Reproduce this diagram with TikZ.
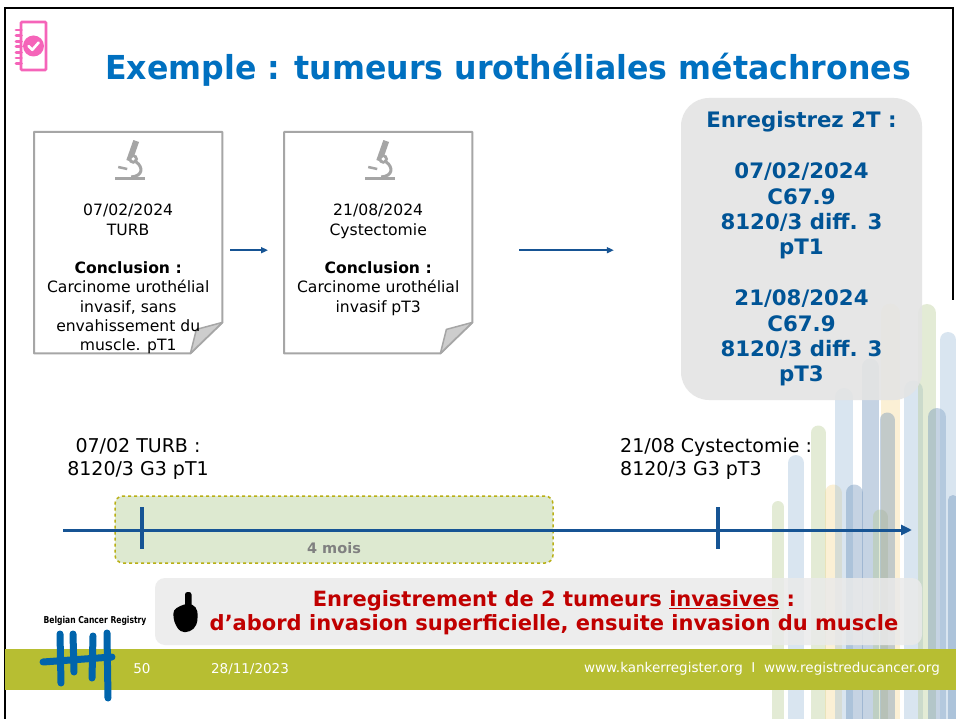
\documentclass[tikz,border=0pt]{standalone}
\usepackage{fontspec}
\setmainfont{DejaVu Sans}
\usetikzlibrary{positioning,arrows.meta,calc}

\definecolor{titleblue}{RGB}{0,112,192}
\definecolor{regblue}{RGB}{0,84,150}
\definecolor{axisblue}{RGB}{22,84,148}
\definecolor{docgray}{RGB}{166,166,166}
\definecolor{icongray}{RGB}{165,165,165}
\definecolor{foldgray}{RGB}{205,205,205}
\definecolor{boxgray}{RGB}{228,228,228}
\definecolor{callgray}{RGB}{234,234,234}
\definecolor{callred}{RGB}{192,0,0}
\definecolor{winfill}{RGB}{221,233,208}
\definecolor{windash}{RGB}{185,175,20}
\definecolor{bandolive}{RGB}{183,190,50}
\definecolor{iconpink}{RGB}{245,100,185}
\definecolor{logoblue}{RGB}{0,100,172}
\definecolor{bl1}{RGB}{150,185,215}
\definecolor{bl2}{RGB}{95,135,180}
\definecolor{yl}{RGB}{245,215,140}
\definecolor{gr}{RGB}{180,200,140}

\tikzset{
  microscope/.pic={
    \fill[icongray] (-18,18) rectangle (12,21.5);
    \draw[icongray, line width=6pt] (-4,2) -- (3,-18);
    \fill[icongray] (0,0) circle (4.8);
    \fill[white] (0,0) circle (1.8);
    \draw[icongray, line width=3pt] (3,3) .. controls (10,8) and (10,17) .. (-2,18);
    \draw[icongray, line width=2.5pt] (-15,8) -- (-6,10);
  }
}

\begin{document}
\begin{tikzpicture}[x=1pt, y=-1pt, >=Stealth,
  sheet/.style={minimum width=188pt, minimum height=221pt, inner sep=0pt, anchor=north west},
  sheetline/.style={draw=docgray, line width=2pt, fill=white, line join=round},
  doctext/.style={align=center, inner sep=0pt, anchor=north, font=\fontsize{15.6}{19.3}\selectfont},
  flow/.style={->, draw=axisblue, line width=1.6pt, >={Triangle[length=7pt,width=6pt]}},
  regbox/.style={fill=boxgray, fill opacity=0.9, text opacity=1, rounded corners=28pt,
    minimum width=241pt, minimum height=302pt, align=center, text=regblue,
    font=\bfseries\fontsize{21.3}{25.4}\selectfont},
  window/.style={draw=windash, dashed, line width=1.5pt, fill=winfill, rounded corners=8pt,
    minimum width=438pt, minimum height=67pt, inner sep=0pt},
  axis/.style={->, draw=axisblue, line width=3pt, >={Triangle[length=11pt,width=10pt]}},
  tick/.style={draw=axisblue, line width=4pt},
  when/.style={inner sep=0pt, font=\fontsize{19}{23}\selectfont},
  callout/.style={fill=callgray, fill opacity=0.85, rounded corners=10pt,
    minimum width=767pt, minimum height=67pt, inner sep=0pt},
  brush/.style={line cap=round, opacity=0.36},
  foot/.style={text=white, inner sep=0pt, font=\fontsize{13.5}{16}\selectfont}]

\useasboundingbox (0,0) rectangle (956,719);
\fill[white] (0,0) rectangle (956,719);

% brush strokes on the right
\foreach \x/\ytop/\col/\w in {778/507/gr/12, 796/463/bl1/16, 818/433/gr/15, 833/493/yl/17,
    844/397/bl1/18, 854/493/bl2/17, 870/367/bl2/17, 880/517/gr/15, 890/313/yl/19,
    887/420/bl2/15, 913/390/bl1/19, 927/313/gr/18, 937/417/bl2/18, 948/340/bl1/16, 953/500/bl2/10}
  \draw[brush, draw=\col, line width=\w pt] (\x,\ytop) -- (\x,719);

% frame
\draw[line width=1.5pt] (5,719) -- (5,8) -- (953,8) -- (953,300);

% notebook icon
\draw[iconpink, line width=2.6pt, rounded corners=1pt] (21,22) rectangle (46,70);
\foreach \k in {0,...,6}
  \draw[iconpink, line width=2.8pt, line cap=round] (16,{30+5.6*\k}) -- (21.5,{30+5.6*\k});
\fill[iconpink] (33.5,46) circle (10.5);
\draw[white, line width=2.6pt, line cap=round, line join=round] (28.5,46) -- (32.3,49.8) -- (38.6,42.6);

% title
\node[anchor=west, inner sep=0pt, text=titleblue, font=\bfseries\fontsize{33}{38}\selectfont]
  (title) at (105,70) {\scalebox{0.958}[1]{Exemple : tumeurs urothéliales métachrones}};

% pathology reports
\node[sheet] (doc1) at (34,132) {};
\node[sheet] (doc2) at (284,132) {};
\foreach \d in {doc1,doc2} {
  \draw[sheetline] (\d.north west) -- (\d.north east) -- ($(\d.south east)+(0,-31)$)
    -- ($(\d.south east)+(-32,0)$) -- (\d.south west) -- cycle;
  \draw[draw=docgray, fill=foldgray, line width=1.5pt, line join=round]
    ($(\d.south east)+(0,-31)$) -- ($(\d.south east)+(-26,-24)$) -- ($(\d.south east)+(-32,0)$) -- cycle;
  \pic at ($(\d.north)+(5,27)$) {microscope};
}
\node[doctext] (txt1) at ($(doc1.north)+(0,72)$)
  {07/02/2024\\TURB\\[19.3pt]\textbf{Conclusion :}\\Carcinome urothélial\\invasif, sans\\envahissement du\\muscle. pT1};
\node[doctext] (txt2) at ($(doc2.north)+(0,72)$)
  {21/08/2024\\Cystectomie\\[19.3pt]\textbf{Conclusion :}\\Carcinome urothélial\\invasif pT3};

% what gets registered
\node[regbox] (reg) at (801.5,249)
  {Enregistrez 2T :\\[25.4pt]07/02/2024\\C67.9\\8120/3 diff. 3\\pT1\\[25.4pt]21/08/2024\\C67.9\\8120/3 diff. 3\\pT3};

\draw[flow, shorten <=8pt, shorten >=16pt] ([yshift=-7.5pt]doc1.east) -- ([yshift=-7.5pt]doc2.west);
\draw[flow, shorten <=47pt, shorten >=67pt] ([yshift=-7.5pt]doc2.east) -- ([yshift=-7.5pt]doc2.east -| reg.west);

% timeline
\node[window] (win) at (334,529.5) {};
\node[text=gray, inner sep=0pt, font=\bfseries\fontsize{14.5}{16}\selectfont] (mois) at ($(win.south)+(0,-16)$) {4 mois};
\coordinate (t0) at (63,530);
\coordinate (t1) at (912,530);
\coordinate (k1) at (142,530);
\coordinate (k2) at (718,530);
\draw[axis] (t0) -- (t1);
\foreach \k in {k1,k2}
  \draw[tick] ($(\k)+(0,-23)$) -- ($(\k)+(0,19)$);
\node[when, align=center] (lab1) at (138,458.5) {07/02 TURB :\\8120/3 G3 pT1};
\node[when, align=left, anchor=west] (lab2) at (620,458.5) {21/08 Cystectomie :\\8120/3 G3 pT3};

% conclusion
\node[callout] (call) at (538.5,611.5) {};
\fill[black, rounded corners=2.5pt] (185,592) rectangle (191.5,614);
\fill[black, rounded corners=4pt] (173,610) -- (184,604) -- (193,604) -- (198,611)
  -- (197,625) -- (190,632) -- (180,632) -- (174,622) -- cycle;
\node[text=callred, align=center, inner sep=0pt, font=\bfseries\fontsize{21}{24}\selectfont]
  (msg) at (554,613) {Enregistrement de 2 tumeurs \underline{invasives} :\\d’abord invasion superficielle, ensuite invasion du muscle};

% footer
\fill[bandolive] (5,649) rectangle (956,690);
\node[inner sep=0pt, font=\bfseries\fontsize{9.5}{10}\selectfont] (brand) at (95,621)
  {\scalebox{0.8}[1]{Belgian Cancer Registry}};
\draw[logoblue, line width=7pt, line cap=round] (60,634) -- (61,683);
\draw[logoblue, line width=7pt, line cap=round] (73,634) -- (74,672);
\draw[logoblue, line width=7pt, line cap=round] (93,636) -- (92,678);
\draw[logoblue, line width=7pt, line cap=round] (107,633) -- (108,698);
\draw[logoblue, line width=7pt, line cap=round] (43,662) -- (112,657);
\node[foot] (page) at (142,669) {50};
\node[foot] (date) at (250,669) {28/11/2023};
\node[foot, anchor=east] (web) at (940,669) {www.kankerregister.org\ \ I\ \ www.registreducancer.org};
\end{tikzpicture}
\end{document}
